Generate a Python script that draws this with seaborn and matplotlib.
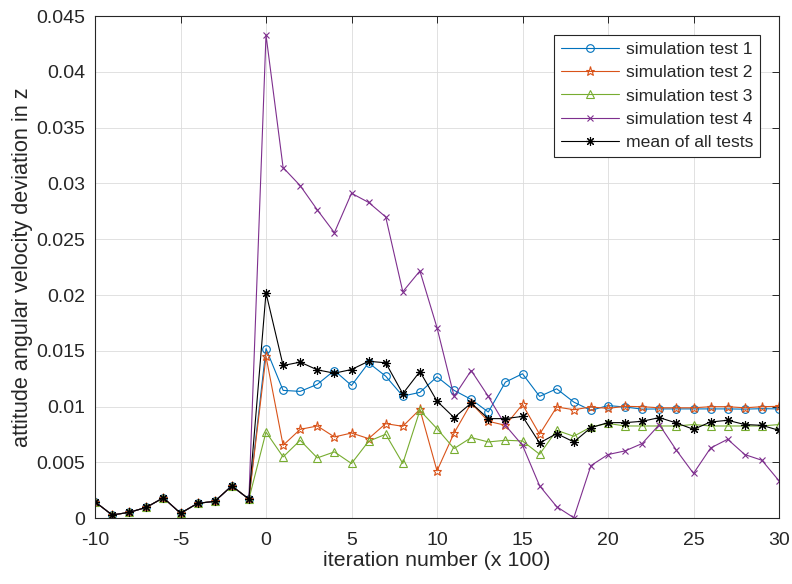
import numpy as np
import pandas as pd
import matplotlib
matplotlib.use("Agg")
import matplotlib.pyplot as plt
import seaborn as sns

# ---------------- data ----------------
iterations = list(range(-10, 31))

pre_zero = [0.00148, 0.0003, 0.00053, 0.00098, 0.00184, 0.00045, 0.00134, 0.00152, 0.0029, 0.00172]

test1 = pre_zero + [0.0152, 0.01146, 0.01137, 0.0120, 0.01324, 0.0119, 0.01393, 0.01273, 0.01095, 0.01128,
                    0.01268, 0.01146, 0.01065, 0.00952, 0.0122, 0.01295, 0.01092, 0.0116, 0.01041, 0.00967,
                    0.0101, 0.00997, 0.00978, 0.0098, 0.0098, 0.0098, 0.0098, 0.0098, 0.00978, 0.00982, 0.0098]
test2 = pre_zero + [0.0145, 0.00654, 0.00797, 0.00827, 0.00729, 0.00764, 0.00714, 0.00848, 0.00824, 0.00976,
                    0.00425, 0.00764, 0.01032, 0.00869, 0.00833, 0.0102, 0.00753, 0.00997, 0.00973, 0.00997,
                    0.00985, 0.01003, 0.0100, 0.0099, 0.0099, 0.0099, 0.0100, 0.0100, 0.0099, 0.0100, 0.01003]
test3 = pre_zero + [0.00773, 0.0055, 0.00699, 0.00541, 0.00595, 0.00491, 0.0069, 0.00753, 0.00491, 0.00967,
                    0.00803, 0.00625, 0.00723, 0.00684, 0.00699, 0.00693, 0.00574, 0.00788, 0.00735, 0.00818,
                    0.0085, 0.00827, 0.00827, 0.00827, 0.00827, 0.0084, 0.00827, 0.00827, 0.00827, 0.00827, 0.0084]
test4 = pre_zero + [0.0433, 0.03142, 0.0298, 0.02763, 0.02559, 0.02912, 0.0283, 0.0270, 0.0203, 0.02216,
                    0.01708, 0.01092, 0.01324, 0.01092, 0.00833, 0.00654, 0.00291, 0.00104, 0.00005, 0.00472,
                    0.00571, 0.00604, 0.0067, 0.00839, 0.0061, 0.00402, 0.0063, 0.00708, 0.00571, 0.0052, 0.00336]
mean_all = pre_zero + [0.0202, 0.01369, 0.01399, 0.0133, 0.0130, 0.01333, 0.01407, 0.01393, 0.01116, 0.01315,
                       0.0105, 0.00902, 0.01032, 0.00893, 0.00893, 0.00913, 0.00675, 0.00759, 0.00684, 0.00812,
                       0.00857, 0.00857, 0.00869, 0.00902, 0.00854, 0.00797, 0.00863, 0.00878, 0.0084, 0.00833, 0.00788]

series_names = ["simulation test 1", "simulation test 2", "simulation test 3",
                "simulation test 4", "mean of all tests"]
series_values = [test1, test2, test3, test4, mean_all]

x_ticks = [-10, -5, 0, 5, 10, 15, 20, 25, 30]
x_tick_labels = ["-10", "-5", "0", "5", "10", "15", "20", "25", "30"]
y_ticks = [0, 0.005, 0.01, 0.015, 0.02, 0.025, 0.03, 0.035, 0.04, 0.045]
y_tick_labels = ["0", "0.005", "0.01", "0.015", "0.02", "0.025", "0.03", "0.035", "0.04", "0.045"]

# ---------------- style ----------------
sns.set_theme(style="white")
plt.rcParams["font.family"] = ["Liberation Sans", "DejaVu Sans"]
plt.rcParams["axes.unicode_minus"] = False

colors = ["#0072BD", "#D95319", "#77AC30", "#7E2F8E", "#000000"]
markers = ["o", "*", "^", "x", (8, 2, 0)]
msizes = [5.5, 6.5, 6.0, 4.5, 6.5]

fig = plt.figure(figsize=(7.92, 5.84), dpi=100)
ax = fig.add_axes([95 / 792, 1 - 518.3 / 584, (779 - 95) / 792, (518.3 - 16) / 584])

df = pd.DataFrame({"iteration": iterations})
for name, vals, c, m, ms in zip(series_names, series_values, colors, markers, msizes):
    df[name] = vals
    sns.lineplot(data=df, x="iteration", y=name, ax=ax, color=c, label=name,
                 marker=m, markersize=ms, markerfacecolor="none", markeredgecolor=c,
                 markeredgewidth=0.8, linewidth=0.8)

ax.set_xlim(-10, 30)
ax.set_ylim(0, 0.045)
ax.set_xticks(x_ticks)
ax.set_xticklabels(x_tick_labels)
ax.set_yticks(y_ticks)
ax.set_yticklabels(y_tick_labels)
ax.tick_params(direction="in", length=5, width=0.7, top=True, right=True,
               labelsize=14, colors="#262626")
ax.tick_params(axis="y", pad=7)
ax.tick_params(axis="x", pad=10)
for lab in ax.get_xticklabels() + ax.get_yticklabels():
    lab.set_color("#262626")
ax.grid(True, color="#dcdcdc", linewidth=0.6)
ax.set_axisbelow(True)
for sp in ax.spines.values():
    sp.set_color("#262626")
    sp.set_linewidth(0.8)

ax.set_xlabel("iteration number (x 100)", fontsize=15.4, color="#262626", labelpad=1.5)
ax.set_ylabel("attitude angular velocity deviation in z", fontsize=15.6, color="#262626", labelpad=2)

leg = ax.legend(loc="upper right", bbox_to_anchor=(0.9722, 0.962), borderaxespad=0,
                fontsize=12.6, frameon=True, fancybox=False, handlelength=3.3,
                labelspacing=0.45, handletextpad=0.4, borderpad=0.4)
leg.get_frame().set_edgecolor("#262626")
leg.get_frame().set_linewidth(0.8)
leg.get_frame().set_alpha(1)

fig.savefig("out.png", dpi=100)
